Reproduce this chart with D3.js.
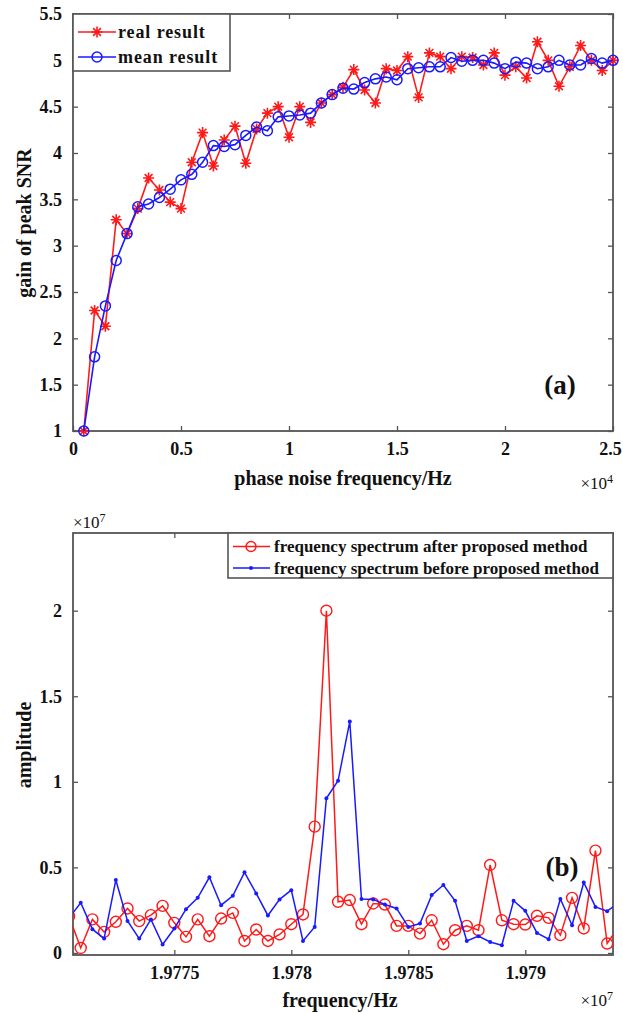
<!DOCTYPE html>
<html>
<head>
<meta charset="utf-8">
<script src="https://cdn.jsdelivr.net/npm/d3@7"></script>
<style>
  body { margin: 0; background: #fff; }
  svg text { font-family: "Liberation Serif", "Times New Roman", serif; font-weight: bold; fill: #111; }
</style>
</head>
<body>
<div id="chart"></div>
<script>
// ---- data (a): gain of peak SNR vs phase noise frequency (x in 1e4 Hz)
var noiseFreq = [0.05,0.1,0.15,0.2,0.25,0.3,0.35,0.4,0.45,0.5,0.55,0.6,0.65,0.7,0.75,0.8,0.85,0.9,0.95,1.0,
                 1.05,1.1,1.15,1.2,1.25,1.3,1.35,1.4,1.45,1.5,1.55,1.6,1.65,1.7,1.75,1.8,1.85,1.9,1.95,2.0,
                 2.05,2.1,2.15,2.2,2.25,2.3,2.35,2.4,2.45,2.5];
var realResult = [1.00,2.30,2.13,3.28,3.13,3.40,3.73,3.60,3.47,3.40,3.90,4.22,3.86,4.14,4.29,3.89,4.26,4.43,4.50,4.17,
                  4.50,4.33,4.54,4.63,4.71,4.90,4.68,4.54,4.91,4.89,5.04,4.60,5.08,5.04,4.91,5.04,5.03,4.95,5.08,4.84,
                  4.93,4.81,5.20,5.00,4.72,4.93,5.16,5.00,4.89,5.00];
var meanResult = [1.00,1.80,2.35,2.84,3.13,3.42,3.45,3.52,3.61,3.71,3.77,3.90,4.08,4.07,4.09,4.19,4.28,4.24,4.39,4.40,
                  4.41,4.43,4.54,4.63,4.70,4.69,4.76,4.80,4.82,4.79,4.91,4.92,4.93,4.93,5.03,4.99,5.00,5.00,4.97,4.91,
                  4.98,4.97,4.91,4.93,5.00,4.95,4.95,5.02,4.97,5.00];
var xTicksA = [0,0.5,1,1.5,2,2.5];
var yTicksA = [1,1.5,2,2.5,3,3.5,4,4.5,5,5.5];

// ---- data (b): spectrum amplitude (x in 1e7 Hz, y in 1e7)
var specFreq = [1.97705,1.97710,1.97715,1.97720,1.97725,1.97730,1.97735,1.97740,1.97745,1.97750,
                1.97755,1.97760,1.97765,1.97770,1.97775,1.97780,1.97785,1.97790,1.97795,1.97800,
                1.97805,1.97810,1.97815,1.97820,1.97825,1.97830,1.97835,1.97840,1.97845,1.97850,
                1.97855,1.97860,1.97865,1.97870,1.97875,1.97880,1.97885,1.97890,1.97895,1.97900,
                1.97905,1.97910,1.97915,1.97920,1.97925,1.97930,1.97935,1.97940];
var afterMethod = [0.215,0.029,0.196,0.123,0.182,0.260,0.186,0.221,0.275,0.176,
                   0.094,0.196,0.098,0.201,0.234,0.070,0.137,0.070,0.108,0.168,
                   0.225,0.738,2.000,0.299,0.309,0.168,0.289,0.283,0.158,0.158,
                   0.113,0.191,0.051,0.133,0.158,0.133,0.514,0.191,0.168,0.166,
                   0.217,0.205,0.104,0.322,0.143,0.598,0.055,0.157];
var beforeMethod = [0.204,0.293,0.139,0.084,0.426,0.187,0.084,0.196,0.049,0.143,
                    0.256,0.322,0.442,0.279,0.334,0.471,0.348,0.219,0.313,0.367,
                    0.070,0.152,0.904,1.006,1.353,0.315,0.313,0.283,0.260,0.152,
                    0.172,0.338,0.397,0.305,0.070,0.098,0.064,0.045,0.305,0.246,
                    0.117,0.080,0.315,0.162,0.412,0.269,0.244,0.295];
var xTicksB = [1.9775,1.978,1.9785,1.979];
var yTicksB = [0,0.5,1,1.5,2];

var W = 623, H = 1013;
var axisColor = "#555";
var red = "#ff1a1a", blue = "#1a1aff";

var svg = d3.select("#chart").append("svg")
    .attr("width", W).attr("height", H);

var defs = svg.append("defs");

// asterisk marker like matlab '*'
function asterisk(s) {
  var d = s * 0.707;
  return "M" + (-s) + ",0L" + s + ",0M0," + (-s) + "L0," + s +
         "M" + (-d) + "," + (-d) + "L" + d + "," + d + "M" + (-d) + "," + d + "L" + d + "," + (-d);
}

function drawFrame(g, x, y, xTicks, yTicks, xFmt, yFmt, id) {
  var r = x.range(), ry = y.range();
  var w = r[1] - r[0], h = ry[0] - ry[1];
  defs.append("clipPath").attr("id", id).append("rect")
      .attr("x", r[0]).attr("y", ry[1]).attr("width", w).attr("height", h);

  var ax = g.append("g").attr("transform", "translate(0," + ry[0] + ")")
      .call(d3.axisBottom(x).tickValues(xTicks).tickSizeInner(-5).tickSizeOuter(0).tickPadding(11).tickFormat(xFmt));
  var axT = g.append("g").attr("transform", "translate(0," + ry[1] + ")")
      .call(d3.axisTop(x).tickValues(xTicks).tickSizeInner(-5).tickSizeOuter(0).tickFormat(""));
  var ay = g.append("g").attr("transform", "translate(" + r[0] + ",0)")
      .call(d3.axisLeft(y).tickValues(yTicks).tickSizeInner(-5).tickSizeOuter(0).tickPadding(11).tickFormat(yFmt));
  var ayR = g.append("g").attr("transform", "translate(" + r[1] + ",0)")
      .call(d3.axisRight(y).tickValues(yTicks).tickSizeInner(-5).tickSizeOuter(0).tickFormat(""));
  [ax, axT, ay, ayR].forEach(function(a) {
    a.select(".domain").remove();
    a.selectAll("line").attr("stroke", axisColor).attr("stroke-width", 1.3);
    a.selectAll("text").attr("font-size", 18).attr("font-family", null).attr("fill", "#111");
  });
  // keep a label that sits on the right edge inside the page
  ax.selectAll(".tick text").filter(function(d) { return x(d) > W - 14; }).attr("dx", -3);
  g.append("rect").attr("x", r[0]).attr("y", ry[1]).attr("width", w).attr("height", h)
      .attr("fill", "none").attr("stroke", axisColor).attr("stroke-width", 1.8);
}

// ================= (a) =================
var xa = d3.scaleLinear().domain([0, 2.5]).range([73, 613]);
var ya = d3.scaleLinear().domain([1, 5.5]).range([431, 14]);
var ga = svg.append("g");
drawFrame(ga, xa, ya, xTicksA, yTicksA, d3.format("~g"), d3.format("~g"), "clipA");

var lineA = d3.line().x(function(d) { return xa(d[0]); }).y(function(d) { return ya(d[1]); });
var realPts = noiseFreq.map(function(f, i) { return [f, realResult[i]]; });
var meanPts = noiseFreq.map(function(f, i) { return [f, meanResult[i]]; });

var plotA = ga.append("g");
plotA.append("path").datum(realPts).attr("d", lineA)
    .attr("fill", "none").attr("stroke", red).attr("stroke-width", 1.6);
plotA.selectAll(".star").data(realPts).enter().append("path")
    .attr("class", "star")
    .attr("transform", function(d) { return "translate(" + xa(d[0]) + "," + ya(d[1]) + ")"; })
    .attr("d", asterisk(5.5)).attr("fill", "none").attr("stroke", red).attr("stroke-width", 1.6);
plotA.append("path").datum(meanPts).attr("d", lineA)
    .attr("fill", "none").attr("stroke", blue).attr("stroke-width", 1.6);
plotA.selectAll(".circ").data(meanPts).enter().append("circle")
    .attr("class", "circ")
    .attr("cx", function(d) { return xa(d[0]); }).attr("cy", function(d) { return ya(d[1]); })
    .attr("r", 5).attr("fill", "none").attr("stroke", blue).attr("stroke-width", 1.5);

// legend (a)
var legA = ga.append("g");
legA.append("rect").attr("x", 73).attr("y", 14).attr("width", 157).attr("height", 57)
    .attr("fill", "#fff").attr("stroke", axisColor).attr("stroke-width", 1.6);
[[red, "real result", 32], [blue, "mean result", 57]].forEach(function(e, i) {
  legA.append("line").attr("x1", 78).attr("x2", 116).attr("y1", e[2]).attr("y2", e[2])
      .attr("stroke", e[0]).attr("stroke-width", 1.6);
  if (i === 0) {
    legA.append("path").attr("transform", "translate(97," + e[2] + ")")
        .attr("d", asterisk(5.5)).attr("fill", "none").attr("stroke", red).attr("stroke-width", 1.6);
  } else {
    legA.append("circle").attr("cx", 97).attr("cy", e[2]).attr("r", 5)
        .attr("fill", "none").attr("stroke", blue).attr("stroke-width", 1.5);
  }
  legA.append("text").attr("x", 118).attr("y", e[2]).attr("dy", "0.35em")
      .attr("font-size", 18).attr("letter-spacing", 0.9).text(e[1]);
});

ga.append("text").attr("transform", "translate(24,223) rotate(-90)")
    .attr("text-anchor", "middle").attr("dy", "0.35em").attr("font-size", 20)
    .text("gain of peak SNR");
ga.append("text").attr("x", 343).attr("y", 478).attr("text-anchor", "middle").attr("dy", "0.35em")
    .attr("font-size", 20).text("phase noise frequency/Hz");
var e4 = ga.append("text").attr("x", 613).attr("y", 483).attr("dy", "0.35em").attr("text-anchor", "end")
    .attr("font-size", 17).style("font-weight", "normal");
e4.append("tspan").text("\u00d710");
e4.append("tspan").attr("dy", "-0.5em").attr("font-size", 12).text("4");
ga.append("text").attr("x", 560).attr("y", 385).attr("text-anchor", "middle").attr("dy", "0.35em")
    .attr("font-size", 27).text("(a)");

// ================= (b) =================
var xb = d3.scaleLinear().domain([1.977067, 1.979375]).range([73, 613]);
var yb = d3.scaleLinear().domain([-0.012, 2.454]).range([955, 533]);
var gb = svg.append("g");
drawFrame(gb, xb, yb, xTicksB, yTicksB, d3.format("~g"), d3.format("~g"), "clipB");

var lineB = d3.line().x(function(d) { return xb(d[0]); }).y(function(d) { return yb(d[1]); });
var afterPts = specFreq.map(function(f, i) { return [f, afterMethod[i]]; });
var beforePts = specFreq.map(function(f, i) { return [f, beforeMethod[i]]; });

var plotB = gb.append("g").attr("clip-path", "url(#clipB)");
plotB.append("path").datum(afterPts).attr("d", lineB)
    .attr("fill", "none").attr("stroke", red).attr("stroke-width", 1.5);
plotB.selectAll(".rc").data(afterPts).enter().append("circle")
    .attr("class", "rc")
    .attr("cx", function(d) { return xb(d[0]); }).attr("cy", function(d) { return yb(d[1]); })
    .attr("r", 5.5).attr("fill", "none").attr("stroke", red).attr("stroke-width", 1.4);
plotB.append("path").datum(beforePts).attr("d", lineB)
    .attr("fill", "none").attr("stroke", blue).attr("stroke-width", 1.5);
plotB.selectAll(".bd").data(beforePts).enter().append("circle")
    .attr("class", "bd")
    .attr("cx", function(d) { return xb(d[0]); }).attr("cy", function(d) { return yb(d[1]); })
    .attr("r", 2).attr("fill", blue);

// legend (b)
var legB = gb.append("g");
legB.append("rect").attr("x", 228).attr("y", 533).attr("width", 385).attr("height", 45)
    .attr("fill", "#fff").attr("stroke", axisColor).attr("stroke-width", 1.6);
[[red, "frequency spectrum after proposed method", 546.5], [blue, "frequency spectrum before proposed method", 568]].forEach(function(e, i) {
  legB.append("line").attr("x1", 233).attr("x2", 270).attr("y1", e[2]).attr("y2", e[2])
      .attr("stroke", e[0]).attr("stroke-width", 1.5);
  if (i === 0) {
    legB.append("circle").attr("cx", 251).attr("cy", e[2]).attr("r", 5)
        .attr("fill", "none").attr("stroke", red).attr("stroke-width", 1.4);
  } else {
    legB.append("circle").attr("cx", 251).attr("cy", e[2]).attr("r", 2).attr("fill", blue);
  }
  legB.append("text").attr("x", 274).attr("y", e[2]).attr("dy", "0.35em")
      .attr("font-size", 17).text(e[1]);
});

gb.append("text").attr("transform", "translate(24,745) rotate(-90)")
    .attr("text-anchor", "middle").attr("dy", "0.35em").attr("font-size", 20)
    .text("amplitude");
gb.append("text").attr("x", 340).attr("y", 1000).attr("text-anchor", "middle").attr("dy", "0.35em")
    .attr("font-size", 20).text("frequency/Hz");
var e7b = gb.append("text").attr("x", 613).attr("y", 1000).attr("dy", "0.35em").attr("text-anchor", "end")
    .attr("font-size", 17).style("font-weight", "normal");
e7b.append("tspan").text("\u00d710");
e7b.append("tspan").attr("dy", "-0.5em").attr("font-size", 12).text("7");
var e7t = gb.append("text").attr("x", 73).attr("y", 522).attr("dy", "0.35em")
    .attr("font-size", 17).style("font-weight", "normal");
e7t.append("tspan").text("\u00d710");
e7t.append("tspan").attr("dy", "-0.5em").attr("font-size", 12).text("7");
gb.append("text").attr("x", 562).attr("y", 867).attr("text-anchor", "middle").attr("dy", "0.35em")
    .attr("font-size", 27).text("(b)");
</script>
</body>
</html>
